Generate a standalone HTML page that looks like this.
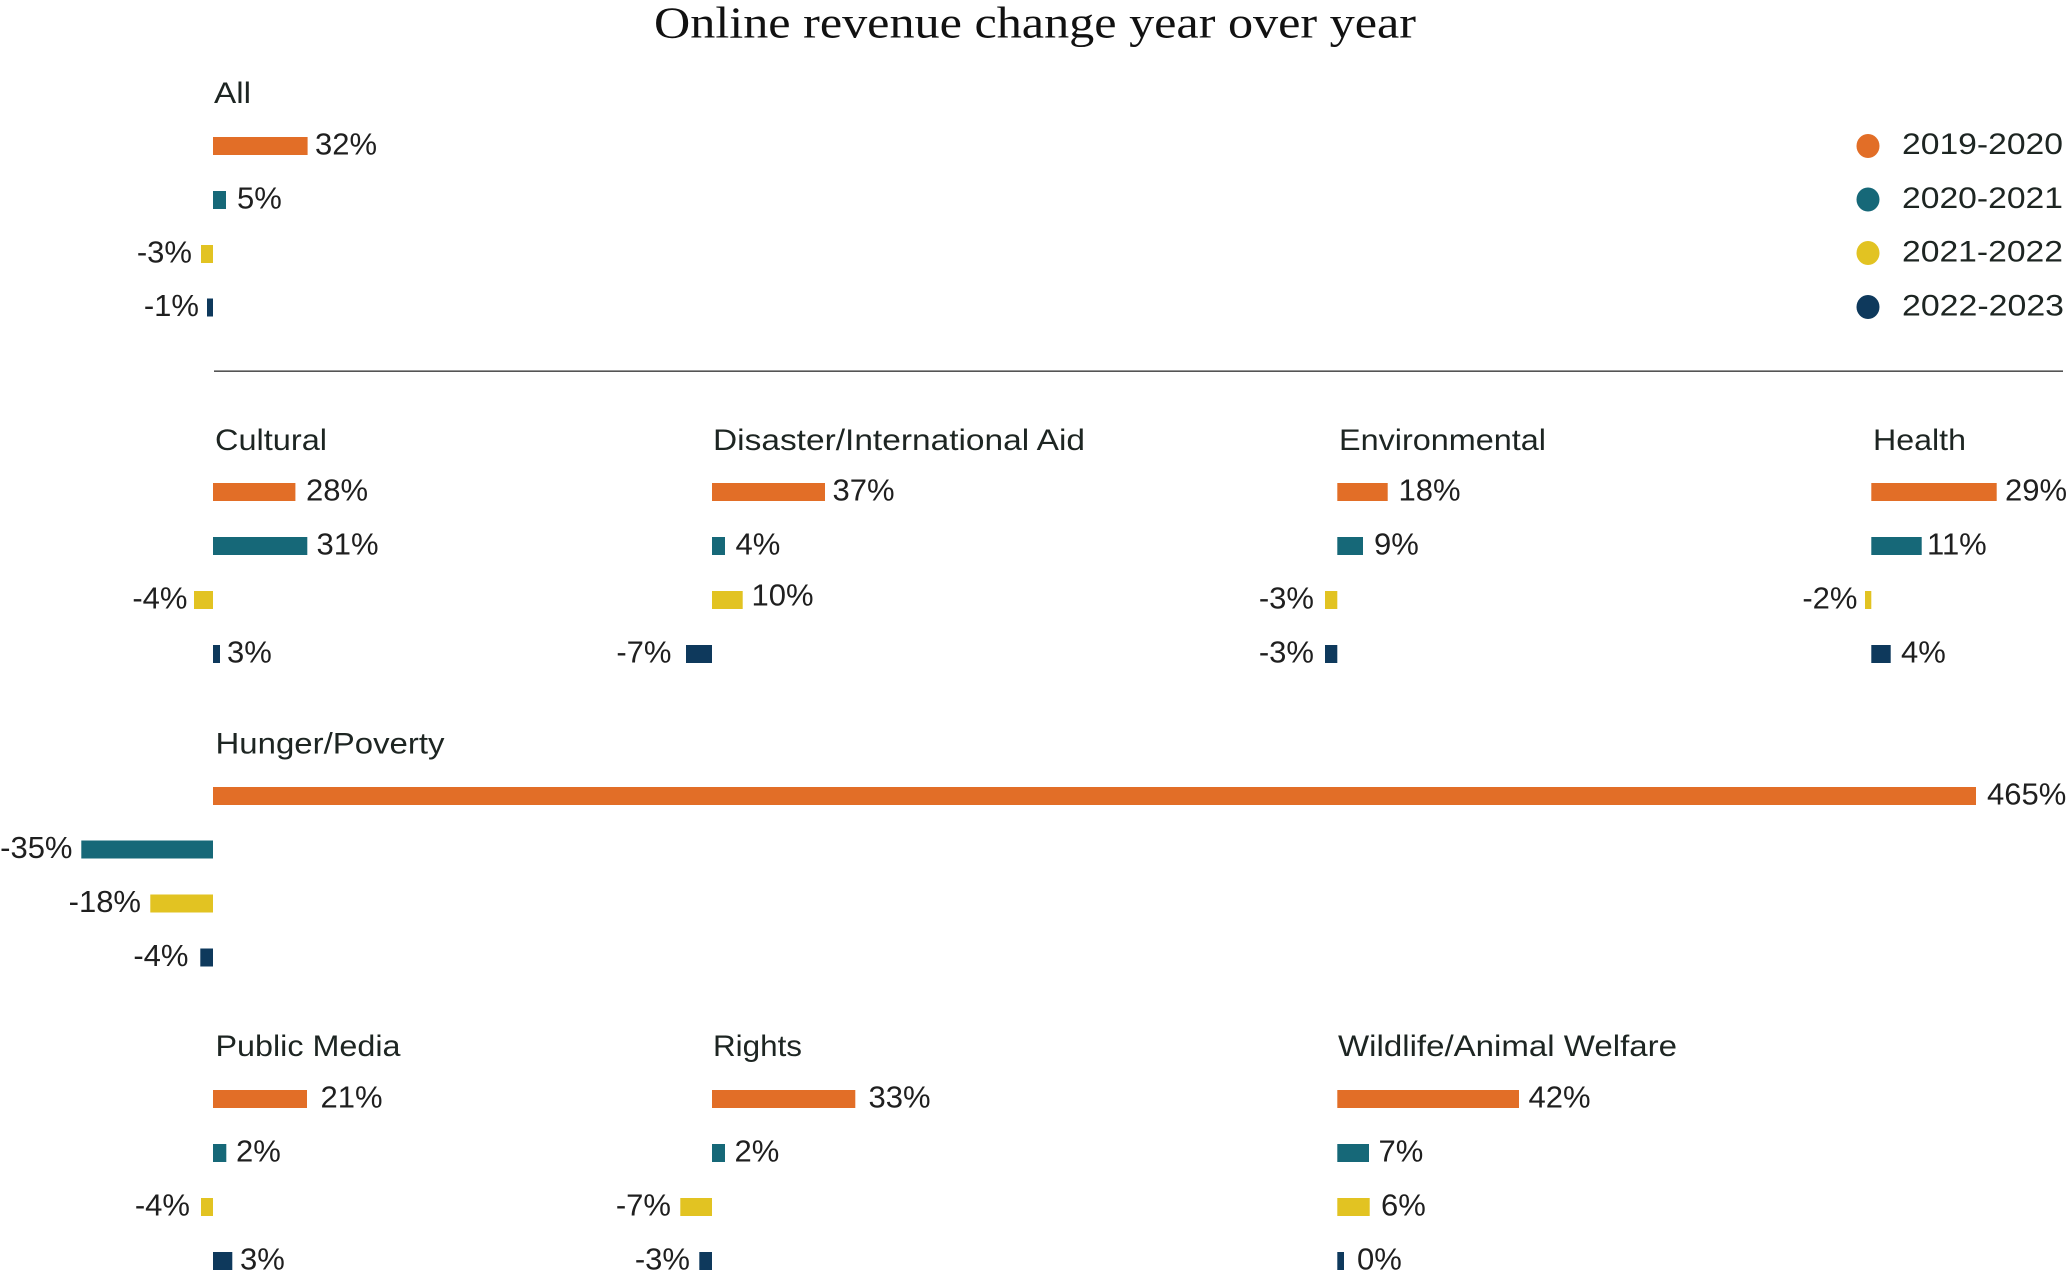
<!DOCTYPE html>
<html>
<head>
<meta charset="utf-8">
<style>
  html, body { margin: 0; padding: 0; background: #ffffff; }
  svg { display: block; }
  .t { font-family: "Liberation Sans", Arial, sans-serif; font-size: 30px; fill: #1d2522; }
  .v { font-family: "Liberation Sans", Arial, sans-serif; font-size: 31px; fill: #1f1f1f; }
  .n { text-anchor: end; }
  .o { fill: #E26E27; }
  .c { fill: #166878; }
  .y { fill: #E2C322; }
  .d { fill: #0E395C; }
</style>
</head>
<body>
<svg width="2070" height="1281" viewBox="0 0 2070 1281" xmlns="http://www.w3.org/2000/svg">
  <!-- Title -->
  <text x="654" y="37.5" font-family="'Liberation Serif', 'Times New Roman', serif" font-size="44" fill="#111111" textLength="762" lengthAdjust="spacingAndGlyphs">Online revenue change year over year</text>

  <!-- ALL panel -->
  <text class="t" x="214" y="103" textLength="37" lengthAdjust="spacingAndGlyphs">All</text>
  <rect class="o" x="213" y="137" width="94.6" height="18"/>
  <text class="v" x="315" y="154.5">32%</text>
  <rect class="c" x="213" y="191" width="13" height="18"/>
  <text class="v" x="237" y="208.5">5%</text>
  <rect class="y" x="201" y="245" width="12" height="18"/>
  <text class="v n" x="192" y="262.5">-3%</text>
  <rect class="d" x="207" y="298.5" width="6" height="18"/>
  <text class="v n" x="199" y="316">-1%</text>

  <!-- Legend -->
  <ellipse class="o" cx="1868" cy="146" rx="11.5" ry="12"/>
  <text class="t" x="1902" y="154" textLength="161" lengthAdjust="spacingAndGlyphs">2019-2020</text>
  <ellipse class="c" cx="1868" cy="199.5" rx="11.5" ry="12"/>
  <text class="t" x="1902" y="208" textLength="161" lengthAdjust="spacingAndGlyphs">2020-2021</text>
  <ellipse class="y" cx="1868" cy="253" rx="11.5" ry="12"/>
  <text class="t" x="1902" y="261.5" textLength="161" lengthAdjust="spacingAndGlyphs">2021-2022</text>
  <ellipse class="d" cx="1868" cy="307" rx="11.5" ry="12"/>
  <text class="t" x="1902" y="315.5" textLength="162" lengthAdjust="spacingAndGlyphs">2022-2023</text>

  <!-- Separator -->
  <rect x="214" y="370.5" width="1849" height="1.3" fill="#2b2b2b"/>

  <!-- Cultural -->
  <text class="t" x="215" y="450" textLength="112" lengthAdjust="spacingAndGlyphs">Cultural</text>
  <rect class="o" x="213" y="483" width="82.4" height="18"/>
  <text class="v" x="306" y="500.5">28%</text>
  <rect class="c" x="213" y="537" width="94.3" height="18"/>
  <text class="v" x="316.5" y="554.5">31%</text>
  <rect class="y" x="194" y="591" width="19" height="18"/>
  <text class="v n" x="187.5" y="608.5">-4%</text>
  <rect class="d" x="213" y="645" width="7" height="18"/>
  <text class="v" x="227" y="662.5">3%</text>

  <!-- Disaster/International Aid -->
  <text class="t" x="713" y="450" textLength="372" lengthAdjust="spacingAndGlyphs">Disaster/International Aid</text>
  <rect class="o" x="712" y="483" width="113" height="18"/>
  <text class="v" x="832.5" y="500.5">37%</text>
  <rect class="c" x="712" y="537" width="13" height="18"/>
  <text class="v" x="735.5" y="554.5">4%</text>
  <rect class="y" x="712" y="591" width="30.7" height="18"/>
  <text class="v" x="751.5" y="605.5">10%</text>
  <rect class="d" x="686" y="645" width="26" height="18"/>
  <text class="v n" x="671.5" y="662.5">-7%</text>

  <!-- Environmental -->
  <text class="t" x="1339" y="450" textLength="207" lengthAdjust="spacingAndGlyphs">Environmental</text>
  <rect class="o" x="1337.3" y="483" width="50.4" height="18"/>
  <text class="v" x="1398.5" y="500.5">18%</text>
  <rect class="c" x="1337.3" y="537" width="25.7" height="18"/>
  <text class="v" x="1374" y="554.5">9%</text>
  <rect class="y" x="1325" y="591" width="12.3" height="18"/>
  <text class="v n" x="1314" y="608.5">-3%</text>
  <rect class="d" x="1325" y="645" width="12.3" height="18"/>
  <text class="v n" x="1314" y="662.5">-3%</text>

  <!-- Health -->
  <text class="t" x="1873" y="450" textLength="93" lengthAdjust="spacingAndGlyphs">Health</text>
  <rect class="o" x="1871.3" y="483" width="125.4" height="18"/>
  <text class="v" x="2005" y="500.5">29%</text>
  <rect class="c" x="1871.3" y="537" width="50.4" height="18"/>
  <text class="v" x="1927" y="554.5">11%</text>
  <rect class="y" x="1865" y="591" width="6.3" height="18"/>
  <text class="v n" x="1857.5" y="608.5">-2%</text>
  <rect class="d" x="1871.3" y="645" width="19.4" height="18"/>
  <text class="v" x="1901" y="662.5">4%</text>

  <!-- Hunger/Poverty -->
  <text class="t" x="215.5" y="753.5" textLength="229" lengthAdjust="spacingAndGlyphs">Hunger/Poverty</text>
  <rect class="o" x="213" y="787" width="1763" height="18"/>
  <text class="v" x="1987" y="804.5">465%</text>
  <rect class="c" x="81.3" y="840.5" width="131.7" height="18"/>
  <text class="v n" x="72.5" y="858">-35%</text>
  <rect class="y" x="150.3" y="894.5" width="62.7" height="18"/>
  <text class="v n" x="141" y="912">-18%</text>
  <rect class="d" x="200.3" y="948.5" width="12.7" height="18"/>
  <text class="v n" x="188.5" y="966">-4%</text>

  <!-- Public Media -->
  <text class="t" x="215.5" y="1056" textLength="185" lengthAdjust="spacingAndGlyphs">Public Media</text>
  <rect class="o" x="213" y="1090" width="94" height="18"/>
  <text class="v" x="320.5" y="1107.5">21%</text>
  <rect class="c" x="213" y="1144" width="13.3" height="18"/>
  <text class="v" x="236" y="1161.5">2%</text>
  <rect class="y" x="201" y="1198" width="12" height="18"/>
  <text class="v n" x="190" y="1215.5">-4%</text>
  <rect class="d" x="213" y="1252" width="19.3" height="18"/>
  <text class="v" x="240" y="1269.5">3%</text>

  <!-- Rights -->
  <text class="t" x="713" y="1056" textLength="89" lengthAdjust="spacingAndGlyphs">Rights</text>
  <rect class="o" x="712" y="1090" width="143.3" height="18"/>
  <text class="v" x="868.5" y="1107.5">33%</text>
  <rect class="c" x="712" y="1144" width="13" height="18"/>
  <text class="v" x="734.5" y="1161.5">2%</text>
  <rect class="y" x="680.3" y="1198" width="31.7" height="18"/>
  <text class="v n" x="671" y="1215.5">-7%</text>
  <rect class="d" x="699.3" y="1252" width="12.7" height="18"/>
  <text class="v n" x="690" y="1269.5">-3%</text>

  <!-- Wildlife/Animal Welfare -->
  <text class="t" x="1338" y="1056" textLength="339" lengthAdjust="spacingAndGlyphs">Wildlife/Animal Welfare</text>
  <rect class="o" x="1337.3" y="1090" width="181.7" height="18"/>
  <text class="v" x="1528.5" y="1107.5">42%</text>
  <rect class="c" x="1337.3" y="1144" width="31.7" height="18"/>
  <text class="v" x="1378.5" y="1161.5">7%</text>
  <rect class="y" x="1337.3" y="1198" width="32.4" height="18"/>
  <text class="v" x="1381" y="1215.5">6%</text>
  <rect class="d" x="1337.3" y="1252" width="6.7" height="18"/>
  <text class="v" x="1357" y="1269.5">0%</text>
</svg>
</body>
</html>
